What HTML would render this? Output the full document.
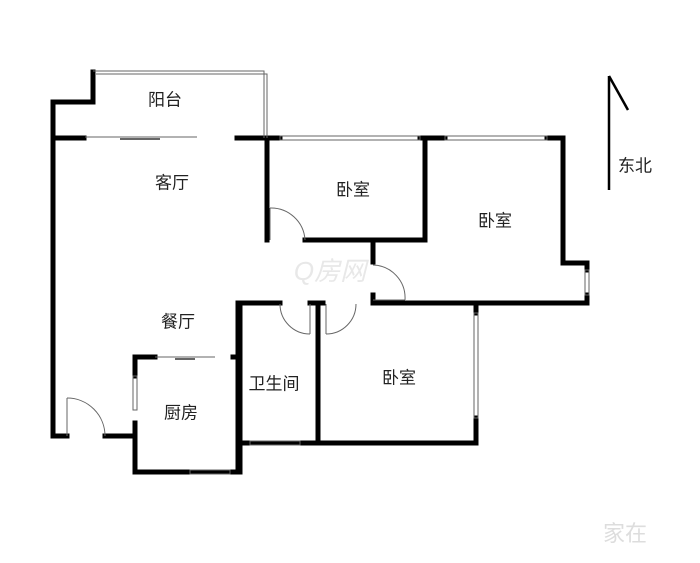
<!DOCTYPE html>
<html><head><meta charset="utf-8"><style>
html,body{margin:0;padding:0;background:#fff;}
svg{display:block}
text{font-family:"Liberation Sans","Noto Sans CJK SC",sans-serif;font-size:17px;fill:#222;text-anchor:middle;dominant-baseline:middle}
</style></head><body>
<svg width="700" height="563" viewBox="0 0 700 563" xmlns="http://www.w3.org/2000/svg">
<g stroke="#000" stroke-width="5" fill="none" stroke-linecap="square">
<!-- left outer + balcony step -->
<polyline points="93,72 93,102 53,102 53,436 67,436"/>
<polyline points="105,436 135,436 135,472 240,472 240,303"/>
<line x1="135" y1="423" x2="135" y2="436"/>
<!-- living top -->
<line x1="53" y1="138" x2="84" y2="138"/>
<line x1="237" y1="138" x2="280" y2="138"/>
<line x1="420" y1="138" x2="445" y2="138"/>
<line x1="547" y1="138" x2="563" y2="138"/>
<!-- bedroom1 -->
<line x1="267" y1="138" x2="267" y2="240"/>
<polyline points="305,240 425,240 425,138"/>
<line x1="373" y1="240" x2="373" y2="262"/>
<line x1="373" y1="295" x2="373" y2="303"/>
<!-- bedroom2 -->
<polyline points="563,138 563,263 587,263 587,270"/>
<polyline points="587,295 587,303 373,303"/>
<!-- bathroom / bedroom3 -->
<line x1="238" y1="303" x2="280" y2="303"/>
<line x1="310" y1="303" x2="323" y2="303"/>
<line x1="318" y1="303" x2="318" y2="443"/>
<line x1="238" y1="303" x2="238" y2="472"/>
<polyline points="476,303 476,313"/>
<polyline points="476,418 476,443 238,443"/>
<!-- kitchen -->
<polyline points="155,357 135,357 135,376"/>
<line x1="233" y1="357" x2="238" y2="357"/>
</g>
<g stroke="#666" stroke-width="1" fill="none">
<!-- balcony thin double -->
<polyline points="93,71 264,71 264,138"/>
<polyline points="96,74 267,74 267,138"/>
<line x1="85" y1="137" x2="197" y2="137"/>
<line x1="120" y1="139" x2="160" y2="139" stroke-width="2"/>
<!-- windows -->
<rect x="280" y="136" width="140" height="4"/>
<rect x="445" y="136" width="102" height="4"/>
<rect x="585" y="270" width="4" height="25"/>
<rect x="474" y="313" width="4" height="105"/>
<rect x="250" y="441" width="50" height="4"/>
<rect x="190" y="470" width="40" height="4"/>
<rect x="133" y="376" width="4" height="34"/>
<line x1="155" y1="357" x2="215" y2="357"/>
<line x1="175" y1="359" x2="195" y2="359" stroke-width="2"/>
<!-- doors -->
<path d="M270,208 A34,34 0 0 1 305,240"/><line x1="270" y1="208" x2="270" y2="240"/>
<path d="M373,265 A33,33 0 0 1 405,300"/><line x1="373" y1="300" x2="405" y2="300"/>
<path d="M280,304 A30,30 0 0 0 310,334"/><line x1="310" y1="304" x2="310" y2="334"/>
<path d="M356,304 A30,30 0 0 1 326,334"/><line x1="326" y1="304" x2="326" y2="334"/>
<path d="M67,398 A38,38 0 0 1 105,436"/><line x1="67" y1="398" x2="67" y2="436"/>
</g>
<!-- north arrow -->
<g stroke="#000" stroke-width="2.5" fill="none">
<line x1="609" y1="76" x2="609" y2="190"/>
<line x1="609" y1="76" x2="628" y2="110"/>
</g>
<text x="165" y="101">阳台</text>
<text x="172" y="184">客厅</text>
<text x="353" y="191">卧室</text>
<text x="495" y="222">卧室</text>
<text x="178" y="323">餐厅</text>
<text x="274" y="385">卫生间</text>
<text x="399" y="379">卧室</text>
<text x="181" y="414">厨房</text>
<text x="635" y="167">东北</text>
<text x="330" y="273" style="font-size:26px;fill:#e8e8e8;font-style:italic">Q房网</text>
<text x="625" y="535" style="font-size:22px;fill:#ddd">家在</text>
</svg>
</body></html>
